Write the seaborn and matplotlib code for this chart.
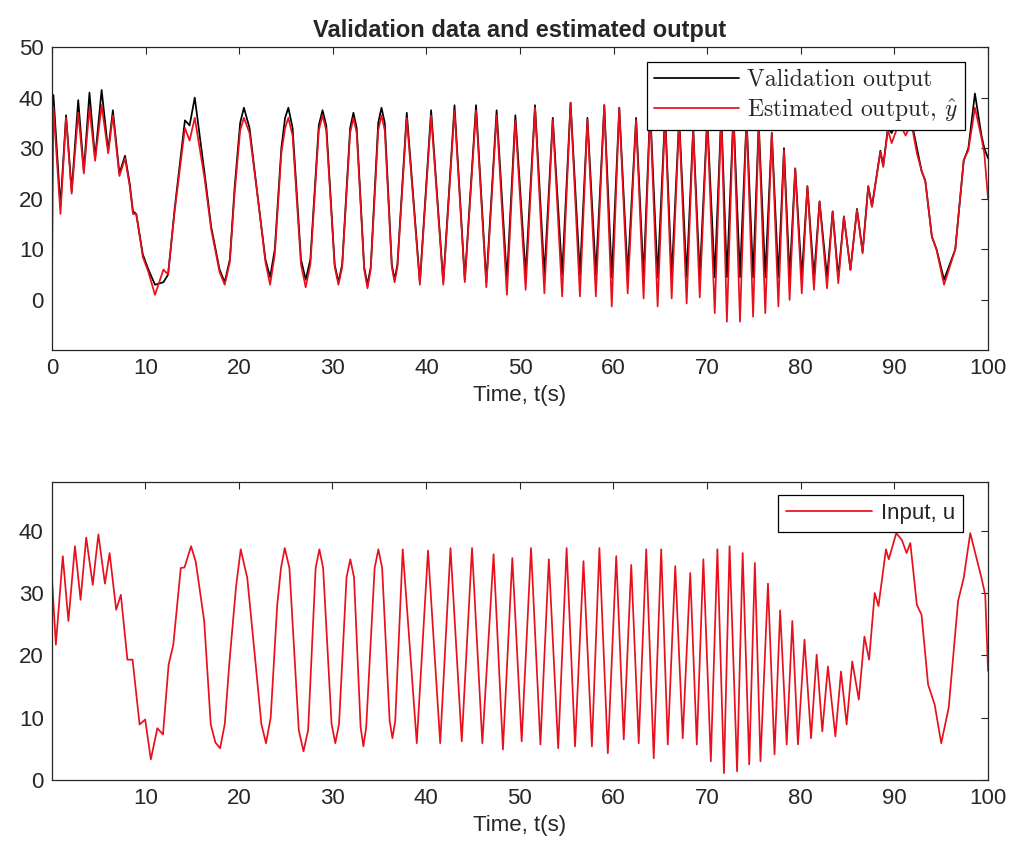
import numpy as np
import pandas as pd
import matplotlib
matplotlib.use("Agg")
import matplotlib.pyplot as plt
import seaborn as sns

sns.set_style("white")
plt.rcParams['font.family'] = ['Liberation Sans', 'DejaVu Sans']
plt.rcParams['mathtext.fontset'] = 'cm'

# --- top panel: validation output (black) and estimated output (red) ---
t_out_a = [0.0, 0.15, 0.9, 1.5, 2.1, 2.8, 3.4, 4.0, 4.6, 5.3, 6.0, 6.5, 7.2, 7.8, 8.3, 8.65, 9.0]
val_a = [38, 40.5, 18.5, 36.5, 21.5, 39.5, 25.5, 41, 28, 41.5, 29.5, 37.5, 25, 28.5, 23, 17.5, 17]
est_a = [5, 38, 17, 36, 21, 37, 25, 38, 27.5, 38.5, 29, 36.5, 24.5, 28, 22.5, 17, 17]

t_out_b = [9.7, 10.3, 11.0, 11.9, 12.4, 13.1, 14.2, 14.7, 15.25, 16.3,
           17.0, 17.9, 18.45, 19.0, 19.5, 20.1, 20.5, 21.1, 22.0, 22.8,
           23.3, 23.8, 24.5, 24.9]
val_b = [9, 6, 3, 3.5, 5, 18, 35.5, 34.5, 40, 25,
         14.5, 6, 3.5, 8, 22, 35, 38, 34, 20, 8,
         4.5, 10, 30, 36]
est_b = [8.5, 5.5, 1, 6, 5, 17.5, 34, 31.5, 36, 24,
         14, 5.5, 3, 7.5, 21, 33.5, 36, 33, 20, 7.5,
         3, 9, 29, 34]

t_out_c = [25.25, 25.7, 26.6, 27.1, 27.6, 28.5, 28.9, 29.3, 30.2, 30.6,
           31.0, 31.85, 32.2, 32.55, 33.35, 33.7, 34.05, 34.85, 35.2, 35.55,
           36.3, 36.6, 36.9, 37.9, 39.3, 40.5, 41.8, 43.0, 44.1, 45.3,
           46.4, 47.5, 48.6, 49.5]
val_c = [38, 34, 8, 4, 8, 34.5, 37.5, 34.5, 7, 3.5,
         7, 34, 37, 34, 6.5, 3, 6.5, 35, 38, 35,
         7, 4, 7, 37, 3.5, 37.5, 3.5, 38.5, 4, 38.5,
         3.5, 37.5, 4, 36.5]
est_c = [36, 32.5, 7, 2.5, 7, 33.5, 36.5, 33.5, 6.5, 3,
         6.5, 33, 36, 33, 6, 2.3, 6, 33.5, 36.5, 33.5,
         6.5, 3.5, 6.5, 36, 3, 36.5, 3, 37.5, 3.5, 37.5,
         2.5, 36.5, 1, 35.5]

t_out_d = [50.6, 51.6, 52.6, 53.5, 54.5, 55.4, 56.4, 57.2, 58.1, 59.0, 59.8, 60.6, 61.5, 62.4, 63.2, 63.9,
           64.7, 65.5, 66.2, 67.0, 67.8, 68.5, 69.2, 70.0, 70.8, 71.5, 72.1, 72.8, 73.5, 74.2, 74.9, 75.5]
val_d = [5, 38.5, 5, 36, 5, 39, 5, 36, 5, 38.5, 4.5, 38, 5, 36, 4.5, 38,
         4.5, 37, 4.5, 36, 4.5, 34, 4.5, 36, 4.5, 37, 4.5, 37, 4.5, 36, 4.5, 35]
est_d = [2, 38, 1.3, 35.6, 0.7, 38.9, 0.7, 35.6, 0.7, 38.5, -1.3, 37.9, 1.3, 35.6, 0.3, 37.5,
         -1.3, 36.5, 0.3, 35.5, -0.7, 33.6, 0.5, 35.5, -2.6, 36.5, -4.3, 37, -4.3, 36, -3.3, 34.5]

t_out_e = [76.2, 76.9, 77.6, 78.2, 78.8, 79.4, 80.1, 80.7, 81.4, 82.0, 82.8, 83.4, 84.0, 84.6, 85.3, 86.0,
           86.6, 87.2, 87.6, 88.5, 88.8, 89.3, 89.7, 90.5, 91.2, 91.8, 92.4, 92.9, 93.3, 94.0, 94.5, 95.3,
           96.5, 97.4, 97.9, 98.6, 99.3, 99.6, 100.0]
val_e = [4.5, 33, 4.5, 30, 4.5, 26, 4.5, 22.5, 4.5, 19.5, 4.5, 17.5, 4.5, 16.5, 6, 18,
         9.5, 22.5, 18.5, 29.5, 26.5, 34, 33, 36.5, 33.5, 35.5, 30, 25.5, 23.5, 12.5, 10, 4,
         10, 27.5, 30, 40.8, 32.5, 30, 28]
est_e = [-2.6, 33, -1.3, 29.6, 0, 26, 1.3, 22.4, 2, 19.4, 2.3, 17.5, 3.3, 16.5, 5.9, 17.8,
         9.2, 22.4, 18.4, 29.3, 26.3, 33.6, 31, 35, 32.5, 35, 29, 25.5, 23.5, 12.5, 9.9, 3,
         10, 27.7, 29.6, 38, 32, 29, 20]

# --- bottom panel: input u ---
t_in_a = [0.0, 0.46, 1.2, 1.8, 2.5, 3.1, 3.7, 4.4, 5.0, 5.7,
          6.2, 6.9, 7.4, 8.1, 8.65, 9.4, 10.0, 10.6, 11.3, 11.9,
          12.5, 13.0, 13.8, 14.2, 14.9, 15.4, 16.3, 17.0, 17.5, 18.0,
          18.5, 19.0, 19.7, 20.2, 20.9, 21.8, 22.4, 22.9, 23.4, 24.1,
          24.5, 24.9, 25.4]
u_a = [33.5, 21.7, 35.9, 25.5, 37.5, 28.9, 38.9, 31.3, 39.4, 31.5,
       36.4, 27.3, 29.7, 19.3, 19.3, 8.9, 9.7, 3.3, 8.3, 7.3,
       18.5, 21.7, 34.0, 34.1, 37.5, 35, 25.5, 8.9, 6, 5.1,
       9, 19.0, 31, 37.0, 32.4, 18.5, 9, 5.9, 10, 28.1,
       34, 37.2, 34]

t_in_b = [26.4, 26.9, 27.4, 28.2, 28.6, 29.0, 29.9, 30.3, 30.7, 31.5,
          31.9, 32.3, 33.0, 33.3, 33.6, 34.5, 34.9, 35.3, 36.1, 36.4,
          36.7, 37.5, 39.0, 40.2, 41.5, 42.6, 43.8, 44.9, 46.0, 47.2,
          48.2, 49.2, 50.2]
u_b = [8, 4.6, 8, 34, 37.0, 34, 9, 5.9, 9, 32.5,
       35.4, 32.5, 8.5, 5.4, 8.5, 34, 37.0, 34, 9.5, 6.7,
       9.5, 37.0, 5.9, 36.8, 5.9, 37.2, 6.2, 37.2, 5.9, 36.2,
       4.9, 35.6, 6.2]

t_in_c = [51.2, 52.2, 53.1, 54.1, 55.0, 55.9, 56.8, 57.7, 58.5, 59.4, 60.3, 61.1, 61.9, 62.7, 63.5, 64.3,
          65.1, 65.8, 66.6, 67.4, 68.2, 68.9, 69.6, 70.4, 71.1, 71.8, 72.4, 73.2, 73.8, 74.5, 75.1]
u_c = [37.2, 5.7, 35.4, 5.1, 37.2, 5.4, 35.1, 5.4, 37.2, 4.3, 35.9, 6.5, 34.5, 5.9, 37.0, 3.5,
       37.0, 5.7, 34.3, 6.7, 33.2, 5.7, 35.4, 3.0, 37.0, 1.1, 37.5, 1.4, 36.4, 2.5, 34.8]

t_in_d = [75.7, 76.5, 77.2, 77.8, 78.5, 79.1, 79.7, 80.4, 81.1, 81.7, 82.3, 82.9, 83.7, 84.3, 84.9, 85.5,
          86.2, 86.8, 87.3, 87.9, 88.3, 89.1, 89.4, 90.2, 90.8, 91.3, 91.7, 92.4, 92.9, 93.6, 94.3, 95.0,
          95.8, 96.8, 97.4, 98.1, 99.3, 99.7, 100.0]
u_d = [3.0, 31.5, 4.1, 27.2, 5.7, 25.5, 5.7, 22.5, 6.7, 20.1, 7.8, 18.2, 7.0, 17.4, 8.9, 19.0,
       12.9, 23.0, 19.3, 30.0, 27.9, 37.0, 35.4, 39.6, 38.5, 36.4, 38.0, 28.1, 26.5, 15.3, 12.1, 5.9,
       11.6, 28.7, 32.4, 39.6, 32.4, 29.7, 17.5]

out_df = pd.DataFrame({
    't': t_out_a + t_out_b + t_out_c + t_out_d + t_out_e,
    'val': val_a + val_b + val_c + val_d + val_e,
    'est': est_a + est_b + est_c + est_d + est_e,
})
in_df = pd.DataFrame({
    't': t_in_a + t_in_b + t_in_c + t_in_d,
    'u': u_a + u_b + u_c + u_d,
})

RED = '#e8101c'
AX_COL = '#262626'
LW = 1.25

fig = plt.figure(figsize=(10.14, 8.61), dpi=100)
ax1 = fig.add_axes([0.0513, 0.5935, 0.9231, 0.3519])
ax2 = fig.add_axes([0.0513, 0.0941, 0.9231, 0.3461])

sns.lineplot(data=out_df, x='t', y='val', ax=ax1, color='black', lw=LW,
             estimator=None, sort=False, label='Validation output')
sns.lineplot(data=out_df, x='t', y='est', ax=ax1, color=RED, lw=LW,
             estimator=None, sort=False, label=r'Estimated output, $\hat{y}$')
sns.lineplot(data=in_df, x='t', y='u', ax=ax2, color=RED, lw=LW,
             estimator=None, sort=False, label='Input, u')

for ln in ax1.lines + ax2.lines:
    ln.set_solid_joinstyle('round')

ax1.set_xlim(0, 100)
ax1.set_ylim(-9.9, 50)
ax1.set_xticks(np.arange(0, 101, 10))
ax1.set_yticks(np.arange(0, 51, 10))
ax1.set_title('Validation data and estimated output', fontsize=17, fontweight='bold', pad=7)

ax2.set_xlim(0.05, 100)
ax2.set_ylim(0, 47.8)
ax2.set_xticks(np.arange(10, 101, 10))
ax2.set_yticks(np.arange(0, 41, 10))

for ax in (ax1, ax2):
    ax.set_xlabel('Time, t(s)', fontsize=16, color=AX_COL, labelpad=4)
    ax.set_ylabel('')
    ax.tick_params(direction='in', top=True, right=True, length=5, width=0.8,
                   labelsize=16, colors=AX_COL, pad=6)
    for sp in ax.spines.values():
        sp.set_visible(True)
        sp.set_color(AX_COL)
        sp.set_linewidth(0.9)

leg1 = ax1.legend(loc='upper right', bbox_to_anchor=(0.9754, 0.9505), borderaxespad=0,
                  prop={'family': 'cmr10', 'size': 17},
                  handlelength=3.6, handletextpad=0.35, borderpad=0.3, labelspacing=0.2,
                  fancybox=False, framealpha=1, edgecolor='black')
leg1.get_frame().set_linewidth(0.9)
leg2 = ax2.legend(loc='upper right', bbox_to_anchor=(0.9733, 0.9564), borderaxespad=0,
                  fontsize=16, handlelength=3.9, handletextpad=0.4, borderpad=0.35,
                  fancybox=False, framealpha=1, edgecolor='black')
leg2.get_frame().set_linewidth(0.9)

fig.savefig('out.png', dpi=100)
